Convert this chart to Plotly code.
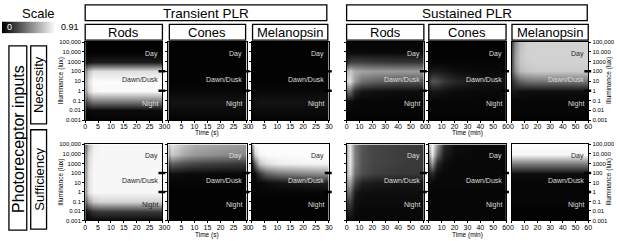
import numpy as np
import plotly.graph_objects as go

W, H = 617, 241
FONT = "Liberation Sans, Arial, Helvetica, sans-serif"

# ---------------- data ----------------
LOG_LUX = [-3, -2, -1, 0, 1, 2, 3, 4, 5]
LUX_LABELS = ["0.001", "0.01", "0.1", "1", "10", "100", "1000", "10,000", "100,000"]
T_TIME = [0, 1, 3, 6, 10, 20, 30]          # transient PLR, seconds
S_TIME = [0, 2, 6, 12, 20, 40, 60]         # sustained PLR, minutes
T_TICKS = [0, 5, 10, 15, 20, 25, 30]
S_TICKS = [0, 10, 20, 30, 40, 50, 60]
CONDITIONS = ["Transient PLR", "Sustained PLR"]
PHOTORECEPTORS = ["Rods", "Cones", "Melanopsin"]
ROLES = ["Necessity", "Sufficiency"]
ZONES = ["Day", "Dawn/Dusk", "Night"]
ZONE_LEVEL = [3.8, 1.15, -1.35]
ZONE_BOUNDS = [2, 0]
SCALE_STOPS = [0, 0.91]

# rows: log lux -3 .. 5 (bottom -> top); columns: time points
t_rods_nec = [
    [0.01, 0.01, 0.01, 0.01, 0.01, 0.01, 0.01],
    [0.02, 0.03, 0.04, 0.04, 0.04, 0.04, 0.04],
    [0.22, 0.35, 0.45, 0.45, 0.45, 0.45, 0.45],
    [0.50, 0.75, 0.88, 0.89, 0.89, 0.89, 0.89],
    [0.55, 0.80, 0.90, 0.90, 0.90, 0.90, 0.90],
    [0.45, 0.68, 0.80, 0.80, 0.80, 0.80, 0.80],
    [0.05, 0.08, 0.10, 0.10, 0.10, 0.10, 0.10],
    [0.01, 0.01, 0.01, 0.01, 0.01, 0.01, 0.01],
    [0.01, 0.01, 0.01, 0.01, 0.01, 0.01, 0.01],
]
t_cones_nec = [
    [0.01, 0.01, 0.01, 0.01, 0.01, 0.01, 0.01],
    [0.03, 0.04, 0.04, 0.04, 0.04, 0.04, 0.04],
    [0.04, 0.07, 0.07, 0.07, 0.07, 0.07, 0.07],
    [0.02, 0.03, 0.03, 0.03, 0.03, 0.03, 0.03],
    [0.01, 0.01, 0.01, 0.01, 0.01, 0.01, 0.01],
    [0.01, 0.01, 0.01, 0.01, 0.01, 0.01, 0.01],
    [0.01, 0.01, 0.01, 0.01, 0.01, 0.01, 0.01],
    [0.01, 0.01, 0.01, 0.01, 0.01, 0.01, 0.01],
    [0.01, 0.01, 0.01, 0.01, 0.01, 0.01, 0.01],
]
t_mel_nec = [
    [0.01, 0.01, 0.01, 0.01, 0.01, 0.01, 0.01],
    [0.03, 0.04, 0.04, 0.04, 0.04, 0.04, 0.04],
    [0.04, 0.06, 0.07, 0.07, 0.07, 0.07, 0.07],
    [0.02, 0.03, 0.03, 0.03, 0.03, 0.03, 0.03],
    [0.01, 0.01, 0.01, 0.01, 0.01, 0.01, 0.01],
    [0.01, 0.01, 0.01, 0.01, 0.01, 0.01, 0.01],
    [0.01, 0.01, 0.01, 0.01, 0.01, 0.01, 0.01],
    [0.01, 0.01, 0.01, 0.01, 0.01, 0.01, 0.01],
    [0.01, 0.01, 0.01, 0.01, 0.01, 0.01, 0.01],
]
s_rods_nec = [
    [0.01, 0.01, 0.01, 0.01, 0.01, 0.01, 0.01],
    [0.02, 0.02, 0.02, 0.02, 0.02, 0.02, 0.02],
    [0.05, 0.05, 0.03, 0.02, 0.02, 0.02, 0.02],
    [0.35, 0.40, 0.15, 0.08, 0.06, 0.05, 0.05],
    [0.75, 0.80, 0.55, 0.40, 0.35, 0.30, 0.30],
    [0.60, 0.72, 0.62, 0.58, 0.56, 0.55, 0.55],
    [0.12, 0.22, 0.24, 0.24, 0.22, 0.20, 0.20],
    [0.03, 0.03, 0.03, 0.03, 0.03, 0.03, 0.03],
    [0.02, 0.02, 0.02, 0.02, 0.02, 0.02, 0.02],
]
s_cones_nec = [
    [0.01, 0.01, 0.01, 0.01, 0.01, 0.01, 0.01],
    [0.02, 0.02, 0.02, 0.02, 0.02, 0.02, 0.02],
    [0.02, 0.02, 0.02, 0.02, 0.02, 0.02, 0.02],
    [0.05, 0.08, 0.08, 0.06, 0.04, 0.03, 0.03],
    [0.20, 0.30, 0.28, 0.20, 0.14, 0.08, 0.06],
    [0.06, 0.10, 0.10, 0.08, 0.05, 0.03, 0.03],
    [0.02, 0.02, 0.02, 0.02, 0.02, 0.02, 0.02],
    [0.01, 0.01, 0.01, 0.01, 0.01, 0.01, 0.01],
    [0.01, 0.01, 0.01, 0.01, 0.01, 0.01, 0.01],
]
s_mel_nec = [
    [0.01, 0.01, 0.01, 0.01, 0.01, 0.01, 0.01],
    [0.02, 0.02, 0.02, 0.02, 0.02, 0.02, 0.02],
    [0.02, 0.02, 0.02, 0.02, 0.02, 0.02, 0.02],
    [0.08, 0.08, 0.06, 0.05, 0.05, 0.05, 0.05],
    [0.15, 0.25, 0.35, 0.40, 0.42, 0.42, 0.42],
    [0.30, 0.50, 0.66, 0.70, 0.72, 0.72, 0.72],
    [0.30, 0.55, 0.70, 0.74, 0.75, 0.75, 0.75],
    [0.30, 0.55, 0.70, 0.75, 0.75, 0.75, 0.75],
    [0.25, 0.50, 0.68, 0.74, 0.75, 0.75, 0.75],
]
t_rods_suf = [
    [0.02, 0.02, 0.03, 0.03, 0.03, 0.03, 0.03],
    [0.05, 0.10, 0.18, 0.20, 0.20, 0.20, 0.20],
    [0.30, 0.55, 0.72, 0.76, 0.76, 0.76, 0.76],
    [0.50, 0.80, 0.88, 0.88, 0.88, 0.88, 0.88],
    [0.50, 0.80, 0.88, 0.88, 0.88, 0.88, 0.88],
    [0.48, 0.80, 0.88, 0.88, 0.88, 0.88, 0.88],
    [0.45, 0.78, 0.88, 0.88, 0.88, 0.88, 0.88],
    [0.40, 0.75, 0.87, 0.88, 0.88, 0.88, 0.88],
    [0.30, 0.65, 0.85, 0.88, 0.88, 0.88, 0.88],
]
t_cones_suf = [
    [0.01, 0.01, 0.01, 0.01, 0.01, 0.01, 0.01],
    [0.01, 0.01, 0.01, 0.01, 0.01, 0.01, 0.01],
    [0.01, 0.01, 0.01, 0.01, 0.01, 0.01, 0.01],
    [0.01, 0.01, 0.01, 0.01, 0.01, 0.01, 0.01],
    [0.02, 0.02, 0.02, 0.02, 0.02, 0.02, 0.02],
    [0.03, 0.05, 0.05, 0.04, 0.04, 0.03, 0.03],
    [0.20, 0.35, 0.32, 0.28, 0.25, 0.22, 0.20],
    [0.55, 0.72, 0.68, 0.60, 0.55, 0.50, 0.48],
    [0.65, 0.82, 0.76, 0.68, 0.62, 0.58, 0.55],
]
t_mel_suf = [
    [0.01, 0.01, 0.01, 0.01, 0.01, 0.01, 0.01],
    [0.01, 0.01, 0.01, 0.01, 0.01, 0.01, 0.01],
    [0.01, 0.01, 0.01, 0.01, 0.01, 0.01, 0.01],
    [0.02, 0.02, 0.02, 0.02, 0.02, 0.02, 0.02],
    [0.02, 0.02, 0.03, 0.05, 0.07, 0.10, 0.12],
    [0.02, 0.05, 0.20, 0.35, 0.42, 0.48, 0.52],
    [0.05, 0.35, 0.70, 0.80, 0.85, 0.87, 0.88],
    [0.25, 0.75, 0.88, 0.90, 0.90, 0.90, 0.90],
    [0.50, 0.88, 0.90, 0.90, 0.90, 0.90, 0.90],
]
s_rods_suf = [
    [0.05, 0.05, 0.03, 0.03, 0.03, 0.03, 0.03],
    [0.10, 0.12, 0.04, 0.03, 0.03, 0.03, 0.03],
    [0.20, 0.25, 0.06, 0.04, 0.04, 0.04, 0.04],
    [0.35, 0.40, 0.10, 0.05, 0.05, 0.05, 0.05],
    [0.50, 0.60, 0.25, 0.12, 0.10, 0.08, 0.08],
    [0.60, 0.80, 0.40, 0.28, 0.23, 0.20, 0.20],
    [0.60, 0.85, 0.45, 0.30, 0.25, 0.22, 0.20],
    [0.60, 0.85, 0.45, 0.30, 0.25, 0.22, 0.20],
    [0.60, 0.85, 0.45, 0.30, 0.25, 0.22, 0.20],
]
s_cones_suf = [
    [0.02, 0.02, 0.02, 0.02, 0.02, 0.02, 0.02],
    [0.02, 0.02, 0.02, 0.02, 0.02, 0.02, 0.02],
    [0.02, 0.02, 0.02, 0.02, 0.02, 0.02, 0.02],
    [0.02, 0.02, 0.02, 0.02, 0.02, 0.02, 0.02],
    [0.03, 0.03, 0.03, 0.03, 0.03, 0.03, 0.03],
    [0.10, 0.15, 0.05, 0.03, 0.03, 0.03, 0.03],
    [0.30, 0.55, 0.15, 0.05, 0.03, 0.03, 0.03],
    [0.50, 0.85, 0.40, 0.10, 0.04, 0.03, 0.03],
    [0.60, 0.90, 0.55, 0.15, 0.05, 0.03, 0.03],
]
s_mel_suf = [
    [0.01, 0.01, 0.01, 0.01, 0.01, 0.01, 0.01],
    [0.01, 0.01, 0.01, 0.01, 0.01, 0.01, 0.01],
    [0.02, 0.02, 0.02, 0.02, 0.02, 0.02, 0.02],
    [0.02, 0.02, 0.02, 0.02, 0.02, 0.02, 0.02],
    [0.02, 0.02, 0.02, 0.02, 0.02, 0.02, 0.02],
    [0.05, 0.05, 0.05, 0.05, 0.05, 0.05, 0.05],
    [0.45, 0.45, 0.45, 0.45, 0.45, 0.45, 0.45],
    [0.88, 0.88, 0.88, 0.88, 0.88, 0.88, 0.88],
    [0.90, 0.90, 0.90, 0.90, 0.90, 0.90, 0.90],
]

PANELS = [
    [t_rods_nec, t_cones_nec, t_mel_nec, s_rods_nec, s_cones_nec, s_mel_nec],
    [t_rods_suf, t_cones_suf, t_mel_suf, s_rods_suf, s_cones_suf, s_mel_suf],
]

# ---------------- layout geometry (pixels) ----------------
COL_PX = [(84, 162), (168, 247), (252, 330), (348, 426), (431, 509), (515, 592)]
ROW_PX = [(40, 120), (145, 223)]
SUB_BOX = [(84, 162), (169, 246), (253, 329), (348, 426), (431, 509), (515, 592)]
HEAD_BOX = [(84, 328), (348, 591)]
ROLE_BOX = [(44, 124), (130, 232)]
TIME_TITLE_Y = [133.5, 237.5]


def px(x):
    return x / W


def py(y):
    return 1 - y / H


def ax(letter, n):
    return letter if n == 1 else f"{letter}{n}"


def bg_value(z, xs, xq, yq):
    col = [np.interp(xq, xs, row) for row in z]
    return float(np.interp(yq, LOG_LUX, col))


GRAY = [[0, "#000000"], [1, "#ffffff"]]

fig = go.Figure()
layout = dict(
    width=W, height=H, margin=dict(l=0, r=0, t=0, b=0),
    paper_bgcolor="white", plot_bgcolor="white", showlegend=False,
    font=dict(family=FONT, color="black"),
)
shapes, annotations = [], []

n = 0
for r in range(2):
    for c in range(6):
        n += 1
        xr, yr = ax("x", n), ax("y", n)
        sustained = c >= 3
        xs = S_TIME if sustained else T_TIME
        z = PANELS[r][c]
        fig.add_trace(go.Heatmap(
            x=xs, y=LOG_LUX, z=z, zmin=SCALE_STOPS[0], zmax=SCALE_STOPS[1],
            colorscale=GRAY, zsmooth="best", showscale=False, hoverinfo="skip",
            xaxis=xr, yaxis=yr,
        ))
        x0, x1 = COL_PX[c]
        y0, y1 = ROW_PX[r]
        layout[ax("xaxis", n)] = dict(
            domain=[px(x0), px(x1)], anchor=yr,
            range=[0, xs[-1]], tickvals=S_TICKS if sustained else T_TICKS,
            ticks="outside", ticklen=2, tickwidth=1, tickcolor="black",
            ticklabelstandoff=-2,
            tickfont=dict(size=7, family=FONT), showline=True, linecolor="black",
            linewidth=1, mirror=True, showgrid=False, zeroline=False, fixedrange=True,
        )
        layout[ax("yaxis", n)] = dict(
            domain=[py(y1), py(y0)], anchor=xr, range=[LOG_LUX[0], LOG_LUX[-1]],
            tickvals=LOG_LUX, ticktext=LUX_LABELS,
            showticklabels=(c == 0 or c == 5), side="right" if c == 5 else "left",
            ticks="outside", ticklen=2, tickwidth=1, tickcolor="black",
            tickfont=dict(size=6, family=FONT), showline=True, linecolor="black",
            linewidth=1, mirror=True, showgrid=False, zeroline=False, fixedrange=True,
        )
        for b in ZONE_BOUNDS:
            shapes.append(dict(type="line", xref=f"{xr} domain", yref=yr,
                               x0=1 - 4 / 78, x1=1 + 3 / 78, y0=b, y1=b,
                               line=dict(color="black", width=2.5)))
        for name, lvl in zip(ZONES, ZONE_LEVEL):
            v = bg_value(z, xs, xs[-1] * 0.85, lvl)
            annotations.append(dict(
                text=name, xref=f"{xr} domain", yref=yr, x=0.97, y=lvl,
                xanchor="right", yanchor="middle", showarrow=False,
                font=dict(size=7, color="#2a2a2a" if v > 0.5 else "#dcdcdc", family=FONT)))

for r in range(2):
    ty = TIME_TITLE_Y[r]
    for c, label in [(1, "Time (s)"), (4, "Time (min)")]:
        cx = (COL_PX[c][0] + COL_PX[c][1]) / 2
        annotations.append(dict(text=label, xref="paper", yref="paper", x=px(cx), y=py(ty),
                                xanchor="center", yanchor="middle", showarrow=False,
                                font=dict(size=6.5, family=FONT)))
    cy = (ROW_PX[r][0] + ROW_PX[r][1]) / 2
    for xx in (60, 613):
        annotations.append(dict(text="Illuminance (lux)", xref="paper", yref="paper",
                                x=px(xx), y=py(cy), textangle=-90, xanchor="center",
                                yanchor="middle", showarrow=False,
                                font=dict(size=6.5, family=FONT)))

for (a, b), label in zip(HEAD_BOX, CONDITIONS):
    shapes.append(dict(type="rect", xref="paper", yref="paper", x0=px(a), x1=px(b),
                       y0=py(18), y1=py(2), line=dict(color="black", width=1.3)))
    annotations.append(dict(text=label, xref="paper", yref="paper", x=px((a + b) / 2),
                            y=py(10.5), xanchor="center", yanchor="middle", showarrow=False,
                            font=dict(size=13.5, family=FONT)))
for i, (a, b) in enumerate(SUB_BOX):
    shapes.append(dict(type="rect", xref="paper", yref="paper", x0=px(a), x1=px(b),
                       y0=py(38), y1=py(22), line=dict(color="black", width=1.3)))
    annotations.append(dict(text=PHOTORECEPTORS[i % 3], xref="paper", yref="paper",
                            x=px((a + b) / 2), y=py(30.5), xanchor="center", yanchor="middle",
                            showarrow=False, font=dict(size=13, family=FONT)))

shapes.append(dict(type="rect", xref="paper", yref="paper", x0=px(7), x1=px(25),
                   y0=py(233), y1=py(44), line=dict(color="black", width=1.3)))
annotations.append(dict(text="Photoreceptor inputs", xref="paper", yref="paper",
                        x=px(16.5), y=py(139), textangle=-90, xanchor="center", yanchor="middle",
                        showarrow=False, font=dict(size=16, family=FONT)))
for (a, b), label in zip(ROLE_BOX, ROLES):
    shapes.append(dict(type="rect", xref="paper", yref="paper", x0=px(29), x1=px(45),
                       y0=py(b), y1=py(a), line=dict(color="black", width=1.3)))
    annotations.append(dict(text=label, xref="paper", yref="paper", x=px(37.5),
                            y=py((a + b) / 2), textangle=-90, xanchor="center",
                            yanchor="middle", showarrow=False, font=dict(size=13, family=FONT)))

fig.add_trace(go.Heatmap(
    x=[0, 1], y=[0, 1], z=[SCALE_STOPS, SCALE_STOPS], zmin=SCALE_STOPS[0], zmax=SCALE_STOPS[1],
    colorscale=GRAY, zsmooth="best", showscale=False, hoverinfo="skip",
    xaxis="x13", yaxis="y13"))
layout["xaxis13"] = dict(domain=[0, px(54)], anchor="y13", range=[0, 1], visible=False, fixedrange=True)
layout["yaxis13"] = dict(domain=[py(31), py(19)], anchor="x13", range=[0, 1], visible=False, fixedrange=True)
annotations.append(dict(text="Scale", xref="paper", yref="paper", x=px(37), y=py(11),
                        xanchor="center", yanchor="middle", showarrow=False,
                        font=dict(size=13, family=FONT)))
annotations.append(dict(text=f"{SCALE_STOPS[0]}", xref="paper", yref="paper", x=px(3), y=py(25),
                        xanchor="left", yanchor="middle", showarrow=False,
                        font=dict(size=9, color="white", family=FONT)))
annotations.append(dict(text=f"{SCALE_STOPS[1]}", xref="paper", yref="paper", x=px(58), y=py(25),
                        xanchor="left", yanchor="middle", showarrow=False,
                        font=dict(size=9, family=FONT)))

layout["shapes"] = shapes
layout["annotations"] = annotations
fig.update_layout(**layout)
fig.write_html(
    "out.html",
    config={"displayModeBar": False},
    post_script="document.body.style.margin='0';document.body.style.overflow='hidden';",
)
